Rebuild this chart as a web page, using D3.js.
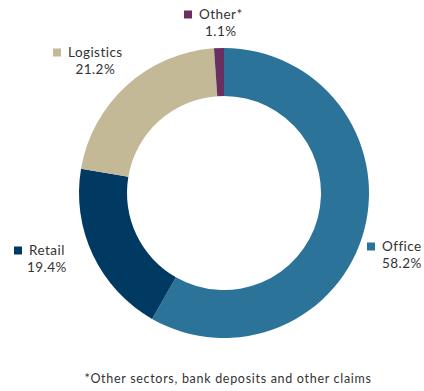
<!DOCTYPE html>
<html>
<head>
<meta charset="utf-8">
<script src="https://cdn.jsdelivr.net/npm/d3@7"></script>
<style>
  html, body { margin: 0; padding: 0; background: #fff; }
  svg text { font-family: Lato, "Open Sans", sans-serif; fill: #333; }
</style>
</head>
<body>
<svg id="chart" width="424" height="391"></svg>
<script>
// Portfolio split by sector (% of total)
const sectors = ["Office", "Retail", "Logistics", "Other*"];
const shares = [58.2, 19.4, 21.2, 1.1];
const shareLabels = ["58.2%", "19.4%", "21.2%", "1.1%"];
const colors = ["#2b7398", "#003a63", "#c4b996", "#6b2e61"];
const footnote = "*Other sectors, bank deposits and other claims";

// Label anchor points (left edge of the marker, baseline of first line)
const labelPos = [
  [367, 251],
  [14, 255],
  [53, 57],
  [184, 19]
];

const svg = d3.select("#chart");
const cx = 224, cy = 193, outerR = 145, innerR = 97;

const data = sectors.map((s, i) => ({ name: s, value: shares[i], label: shareLabels[i], color: colors[i], pos: labelPos[i] }));

const pie = d3.pie().value(d => d.value).sort(null).startAngle(0).endAngle(2 * Math.PI);
const arc = d3.arc().innerRadius(innerR).outerRadius(outerR);

svg.append("g")
  .attr("transform", `translate(${cx},${cy})`)
  .selectAll("path")
  .data(pie(data))
  .join("path")
  .attr("d", arc)
  .attr("fill", d => d.data.color);

// Legend-style labels next to the ring
const lab = svg.append("g").selectAll("g").data(data).join("g")
  .attr("transform", d => `translate(${d.pos[0]},${d.pos[1]})`);

lab.append("rect")
  .attr("x", 0).attr("y", -8.5).attr("width", 8).attr("height", 8)
  .attr("fill", d => d.color);

lab.append("text")
  .attr("class", "name")
  .attr("x", 15).attr("y", 0)
  .style("font-size", "13.5px")
  .style("letter-spacing", "0.45px")
  .text(d => d.name);

lab.each(function () {
  const g = d3.select(this);
  const t = g.select("text.name");
  const w = t.node().getComputedTextLength();
  g.append("text")
    .attr("x", 15 + w / 2).attr("y", 17)
    .attr("text-anchor", "middle")
    .style("font-size", "13.5px")
    .style("letter-spacing", "0.45px")
    .text(d => d.label);
});

svg.append("text")
  .attr("x", 228).attr("y", 383)
  .attr("text-anchor", "middle")
  .style("font-size", "12.5px")
  .style("letter-spacing", "0.7px")
  .text(footnote);
</script>
</body>
</html>
